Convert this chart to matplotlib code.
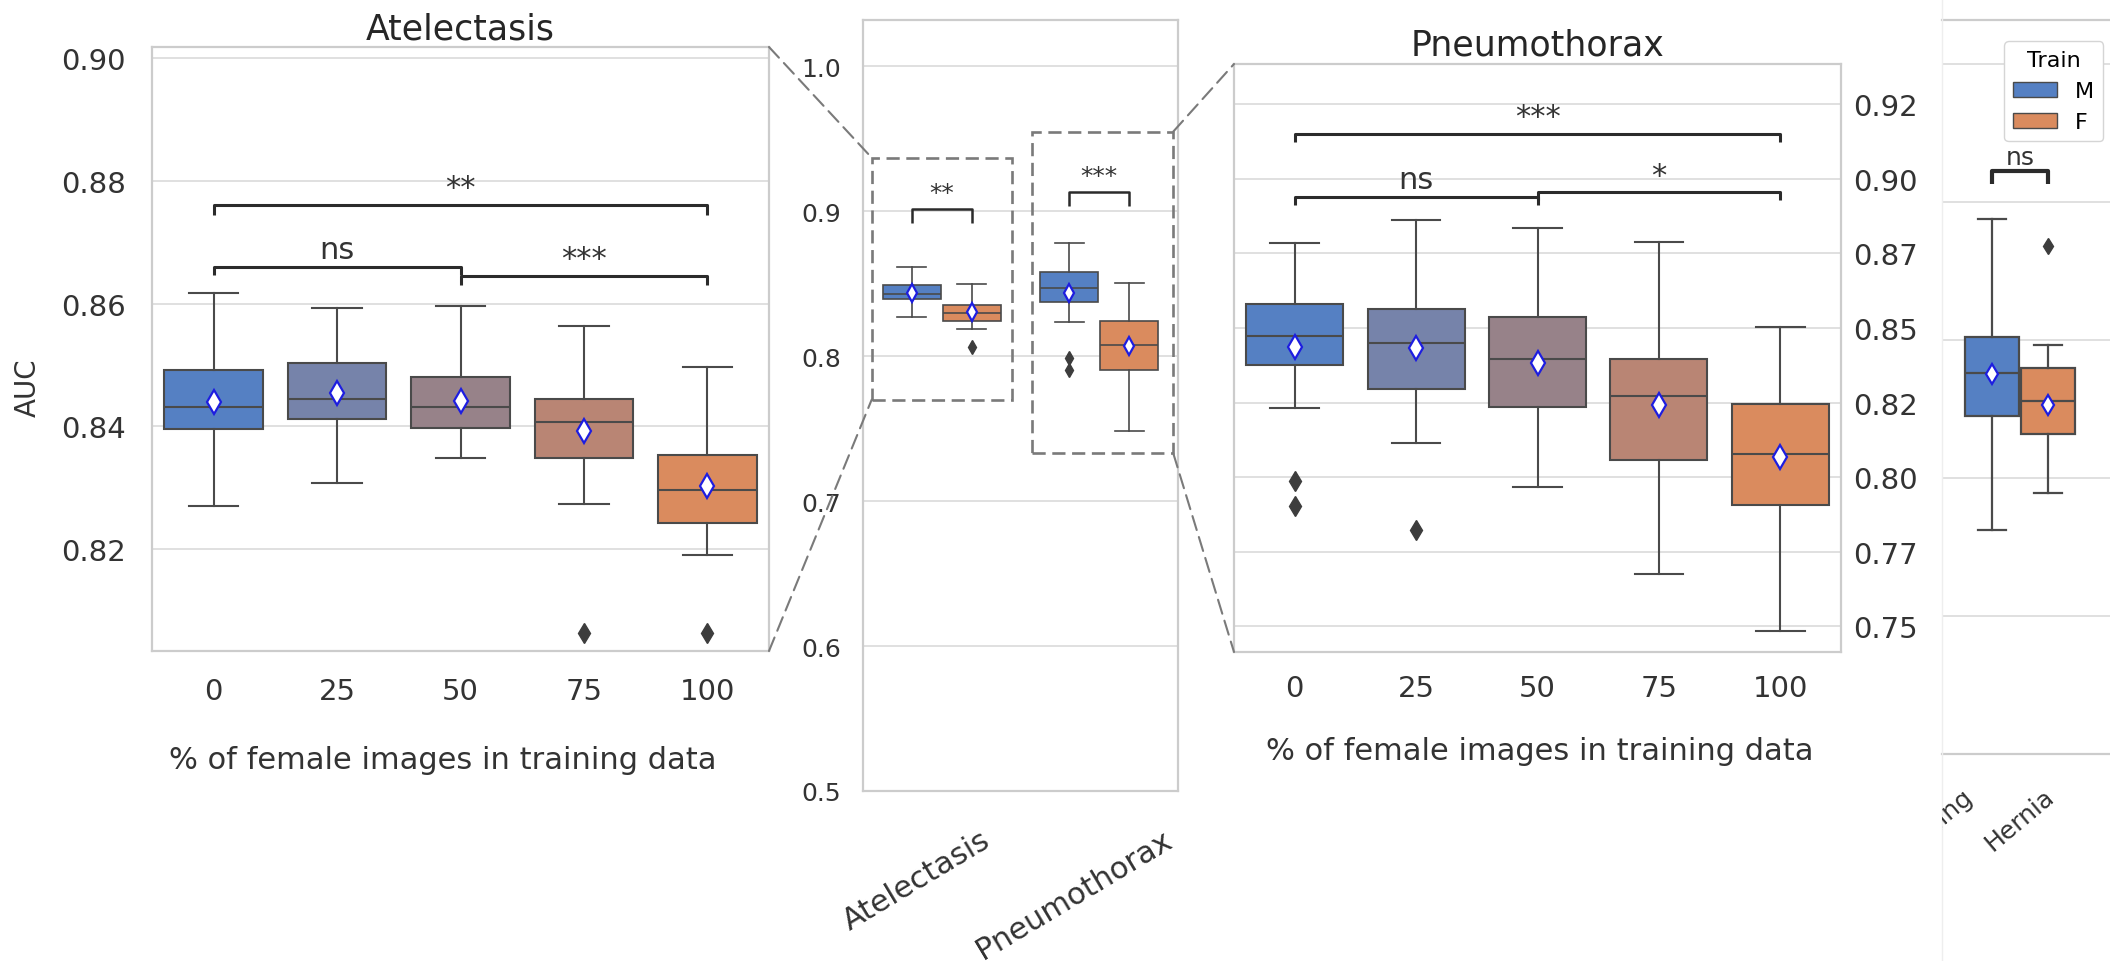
import matplotlib
matplotlib.use("Agg")
import matplotlib.pyplot as plt
from matplotlib.patches import Rectangle, ConnectionPatch, Patch
from matplotlib.lines import Line2D
from matplotlib.transforms import Bbox, TransformedBbox, ScaledTranslation

W, H = 2110, 962

pct_labels = ['0', '25', '50', '75', '100']
diseases = ['Atelectasis', 'Pneumothorax']
train_groups = ['M', 'F']

# Atelectasis AUC, one box per % of female training images
atel_whislo = [0.8271, 0.8307, 0.8348, 0.8273, 0.8191]
atel_q1 = [0.8395, 0.8412, 0.8397, 0.8349, 0.8242]
atel_med = [0.8431, 0.8444, 0.8432, 0.8407, 0.8297]
atel_q3 = [0.8492, 0.8503, 0.8480, 0.8444, 0.8353]
atel_whishi = [0.8617, 0.8593, 0.8596, 0.8563, 0.8496]
atel_mean = [0.8439, 0.8455, 0.8442, 0.8393, 0.8303]
atel_fliers = [[], [], [], [0.8064], [0.8064]]

# Pneumothorax AUC
pneu_whislo = [0.8233, 0.8113, 0.7966, 0.7676, 0.7485]
pneu_q1 = [0.8375, 0.8294, 0.8236, 0.8058, 0.7908]
pneu_med = [0.8473, 0.8450, 0.8397, 0.8271, 0.8079]
pneu_q3 = [0.8580, 0.8564, 0.8537, 0.8396, 0.8245]
pneu_whishi = [0.8784, 0.8861, 0.8834, 0.8788, 0.8502]
pneu_mean = [0.8438, 0.8432, 0.8383, 0.8241, 0.8068]
pneu_fliers = [[0.7986, 0.7904], [0.7824], [], [], []]

# Hernia AUC (M, F)
hern_whislo = [0.6622, 0.6889]
hern_q1 = [0.7453, 0.7320]
hern_med = [0.7764, 0.7556]
hern_q3 = [0.8022, 0.7796]
hern_whishi = [0.8880, 0.7964]
hern_mean = [0.7756, 0.7533]
hern_fliers = [[], [0.8680]]

# significance brackets: (x1, x2, y, drop_left, drop_right, label)
atel_sig = [(0, 4, 0.8761, 0.0016, 0.0016, '**'),
            (0, 2, 0.8660, 0.0014, 0.0014, 'ns'),
            (2, 4, 0.8645, 0.0014, 0.0014, '***')]
pneu_sig = [(0, 4, 0.9150, 0.0027, 0.0027, '***'),
            (0, 2, 0.8939, 0.0028, 0.0028, 'ns'),
            (2, 4, 0.8955, 0.0027, 0.0027, '*')]
mid_sig = [(-0.19, 0.19, 0.9014, 0.0094, 0.0094, '**'),
           (0.81, 1.19, 0.9133, 0.0098, 0.0098, '***')]
hern_sig = [(0.8, 1.2, 0.9222, 0.0089, 0.0089, 'ns')]

box_colors = ['#5580C3', '#7683AA', '#978289', '#B98574', '#DA8B5E']
m_color, f_color = box_colors[0], box_colors[-1]
line_col = '#4a4a4a'
grid_col = '#dddddd'
spine_col = '#cccccc'


def make_stats(lo, q1, med, q3, hi, mean, fl):
    return [dict(whislo=a, q1=b, med=c, q3=d, whishi=e, mean=f, fliers=g)
            for a, b, c, d, e, f, g in zip(lo, q1, med, q3, hi, mean, fl)]


def draw_boxes(ax, stats, pos, width, colors, lw=1.5, ms=12, fms=10):
    art = ax.bxp(stats, positions=pos, widths=width, patch_artist=True,
                 showmeans=True, manage_ticks=False,
                 boxprops=dict(edgecolor=line_col, linewidth=lw),
                 whiskerprops=dict(color=line_col, linewidth=lw),
                 capprops=dict(color=line_col, linewidth=lw),
                 medianprops=dict(color=line_col, linewidth=lw),
                 meanprops=dict(marker='d', markerfacecolor='white',
                                markeredgecolor='#1d1de0', markersize=ms,
                                markeredgewidth=1.6),
                 flierprops=dict(marker='d', markerfacecolor='#3d3d3d',
                                 markeredgecolor='#3d3d3d', markersize=fms))
    for patch, c in zip(art['boxes'], colors):
        patch.set_facecolor(c)


def brackets(ax, sig, fs, lw=2.2, lift=2):
    for x1, x2, y, d1, d2, lab in sig:
        ax.plot([x1, x1, x2, x2], [y - d1, y, y, y - d2], color='#2b2b2b',
                lw=lw, solid_capstyle='butt', clip_on=False)
        ax.annotate(lab, ((x1 + x2) / 2, y), xytext=(0, lift), textcoords='offset points',
                    ha='center', va='bottom', fontsize=fs, color='#333333')


def style(ax):
    ax.set_axisbelow(True)
    ax.grid(axis='y', color=grid_col, lw=1.3)
    ax.grid(axis='x', visible=False)
    for s in ax.spines.values():
        s.set_color(spine_col)
        s.set_linewidth(1.6)
    ax.tick_params(length=0, colors='#333333')


def px_axes(fig, left, top, right, bottom):
    return fig.add_axes([left / W, 1 - bottom / H, (right - left) / W, (bottom - top) / H])


fig = plt.figure(figsize=(W / 100, H / 100), dpi=100)

# --- Atelectasis panel
ax1 = px_axes(fig, 152, 48, 769, 652)
style(ax1)
x5 = list(range(len(pct_labels)))
draw_boxes(ax1, make_stats(atel_whislo, atel_q1, atel_med, atel_q3, atel_whishi,
                           atel_mean, atel_fliers), x5, 0.8, box_colors)
ax1.set_xlim(-0.5, 4.5)
ax1.set_ylim(0.8034, 0.9018)
ax1.set_yticks([0.82, 0.84, 0.86, 0.88, 0.90])
ax1.set_yticklabels(['0.82', '0.84', '0.86', '0.88', '0.90'])
ax1.set_xticks(x5)
ax1.set_xticklabels(pct_labels)
ax1.tick_params(labelsize=21, pad=19)
ax1.set_title('Atelectasis', fontsize=25, pad=6, color='#262626')
ax1.set_xlabel('% of female images in training data', fontsize=22, color='#333333')
ax1.xaxis.set_label_coords(0.472, -0.156)
ax1.set_ylabel('AUC', fontsize=20, color='#333333')
ax1.yaxis.set_label_coords(-0.178, 0.437)
brackets(ax1, atel_sig, 22)

# --- middle overview panel
ax2 = px_axes(fig, 863, 21, 1178, 792)
style(ax2)
off = 0.19
for i, (lo, q1, md, q3, hi, mn, fl) in enumerate([
        (atel_whislo, atel_q1, atel_med, atel_q3, atel_whishi, atel_mean, atel_fliers),
        (pneu_whislo, pneu_q1, pneu_med, pneu_q3, pneu_whishi, pneu_mean, pneu_fliers)]):
    st = make_stats(lo, q1, md, q3, hi, mn, fl)
    draw_boxes(ax2, [st[0], st[-1]], [i - off, i + off], 0.37, [m_color, f_color],
               lw=1.2, ms=9, fms=7)
ax2.set_xlim(-0.5, 1.5)
ax2.set_ylim(0.5, 1.032)
ax2.set_yticks([0.5, 0.6, 0.7, 0.8, 0.9, 1.0])
ax2.set_yticklabels(['0.5', '0.6', '0.7', '0.8', '0.9', '1.0'])
ax2.set_xticks([0, 1])
ax2.set_xticklabels(diseases, rotation=31, ha='center')
ax2.tick_params(axis='y', labelsize=18, pad=16)
ax2.tick_params(axis='x', labelsize=22, pad=24)
shift = ScaledTranslation(-0.25, 0, fig.dpi_scale_trans)
for lab in ax2.get_xticklabels():
    lab.set_transform(lab.get_transform() + shift)
brackets(ax2, mid_sig, 18, lw=1.8, lift=3)

zoom_dash = (0, (5, 2.5))
atel_rect = (-0.445, 0.770, 0.893, 0.167)
pneu_rect = (0.571, 0.733, 0.899, 0.222)
for r in (atel_rect, pneu_rect):
    ax2.add_patch(Rectangle(r[:2], r[2], r[3], fill=False, ec='#7a7a7a', lw=1.9,
                            ls=zoom_dash, clip_on=False, zorder=5))

# --- Pneumothorax panel
ax3 = px_axes(fig, 1234, 65, 1841, 653)
style(ax3)
draw_boxes(ax3, make_stats(pneu_whislo, pneu_q1, pneu_med, pneu_q3, pneu_whishi,
                           pneu_mean, pneu_fliers), x5, 0.8, box_colors)
ax3.set_xlim(-0.5, 4.5)
ax3.set_ylim(0.7414, 0.9385)
ax3.yaxis.tick_right()
ax3.set_yticks([0.75, 0.775, 0.80, 0.825, 0.85, 0.875, 0.90, 0.925])
ax3.set_yticklabels(['0.75', '0.77', '0.80', '0.82', '0.85', '0.87', '0.90', '0.92'])
ax3.set_xticks(x5)
ax3.set_xticklabels(pct_labels)
ax3.tick_params(axis='y', labelsize=21, pad=9)
ax3.tick_params(axis='x', labelsize=21, pad=16)
ax3.set_title('Pneumothorax', fontsize=25, pad=7, color='#262626')
ax3.set_xlabel('% of female images in training data', fontsize=22, color='#333333')
ax3.xaxis.set_label_coords(0.504, -0.143)
brackets(ax3, pneu_sig, 22, lift=2)

# --- cropped Hernia panel
ax4 = px_axes(fig, 1942, 21, 2160, 755)
style(ax4)
ax4.spines['left'].set_visible(False)
draw_boxes(ax4, make_stats(hern_whislo, hern_q1, hern_med, hern_q3, hern_whishi,
                           hern_mean, hern_fliers), [0.8, 1.2], 0.39,
           [m_color, f_color], lw=1.6, ms=10, fms=8)
ax4.set_xlim(0.443, 2.0)
ax4.set_ylim(0.5, 1.032)
ax4.set_yticks([0.5, 0.6, 0.7, 0.8, 0.9, 1.0])
ax4.set_yticklabels([])
ax4.set_xticks([1])
ax4.set_xticklabels(['Hernia'], rotation=40, ha='center')
ax4.tick_params(axis='x', labelsize=18, pad=21)
brackets(ax4, hern_sig, 18, lw=3)
prev = fig.text(0, 0, 'Pleural_Thickening', rotation=40, ha='center', va='top',
                fontsize=18, color='#333333', clip_on=True,
                transform=ax4.get_xaxis_transform())
prev.set_position((0, -0.0395))
prev.set_clip_box(TransformedBbox(Bbox([[1942 / W, 0], [1, 1]]), fig.transFigure))
leg = ax4.legend(handles=[Patch(facecolor=m_color, edgecolor=line_col, label='M'),
                          Patch(facecolor=f_color, edgecolor=line_col, label='F')],
                 title='Train', fontsize=16, title_fontsize=16, loc='upper left',
                 bbox_to_anchor=(1993 / W, 1 - 31 / H), bbox_transform=fig.transFigure,
                 frameon=True, framealpha=1, edgecolor='#d5d5d5', handlelength=2.0,
                 handletextpad=0.8, labelspacing=0.5, borderpad=0.4)
leg.set_zorder(10)
fig.add_artist(Line2D([1942 / W, 1942 / W], [0, 1], color='#eeeeee', lw=1))

# --- zoom connectors
con_style = dict(color='#7a7a7a', lw=1.5, ls=(0, (7, 3.5)))
for xyA, axA, xyB, axB in [((1, 1), ax1.transAxes, (atel_rect[0], atel_rect[1] + atel_rect[3]), ax2.transData),
                           ((1, 0), ax1.transAxes, (atel_rect[0], atel_rect[1]), ax2.transData),
                           ((pneu_rect[0] + pneu_rect[2], pneu_rect[1] + pneu_rect[3]), ax2.transData, (0, 1), ax3.transAxes),
                           ((pneu_rect[0] + pneu_rect[2], pneu_rect[1]), ax2.transData, (0, 0), ax3.transAxes)]:
    fig.add_artist(ConnectionPatch(xyA=xyA, coordsA=axA, xyB=xyB, coordsB=axB, **con_style))

fig.savefig('out.png', dpi=100)
